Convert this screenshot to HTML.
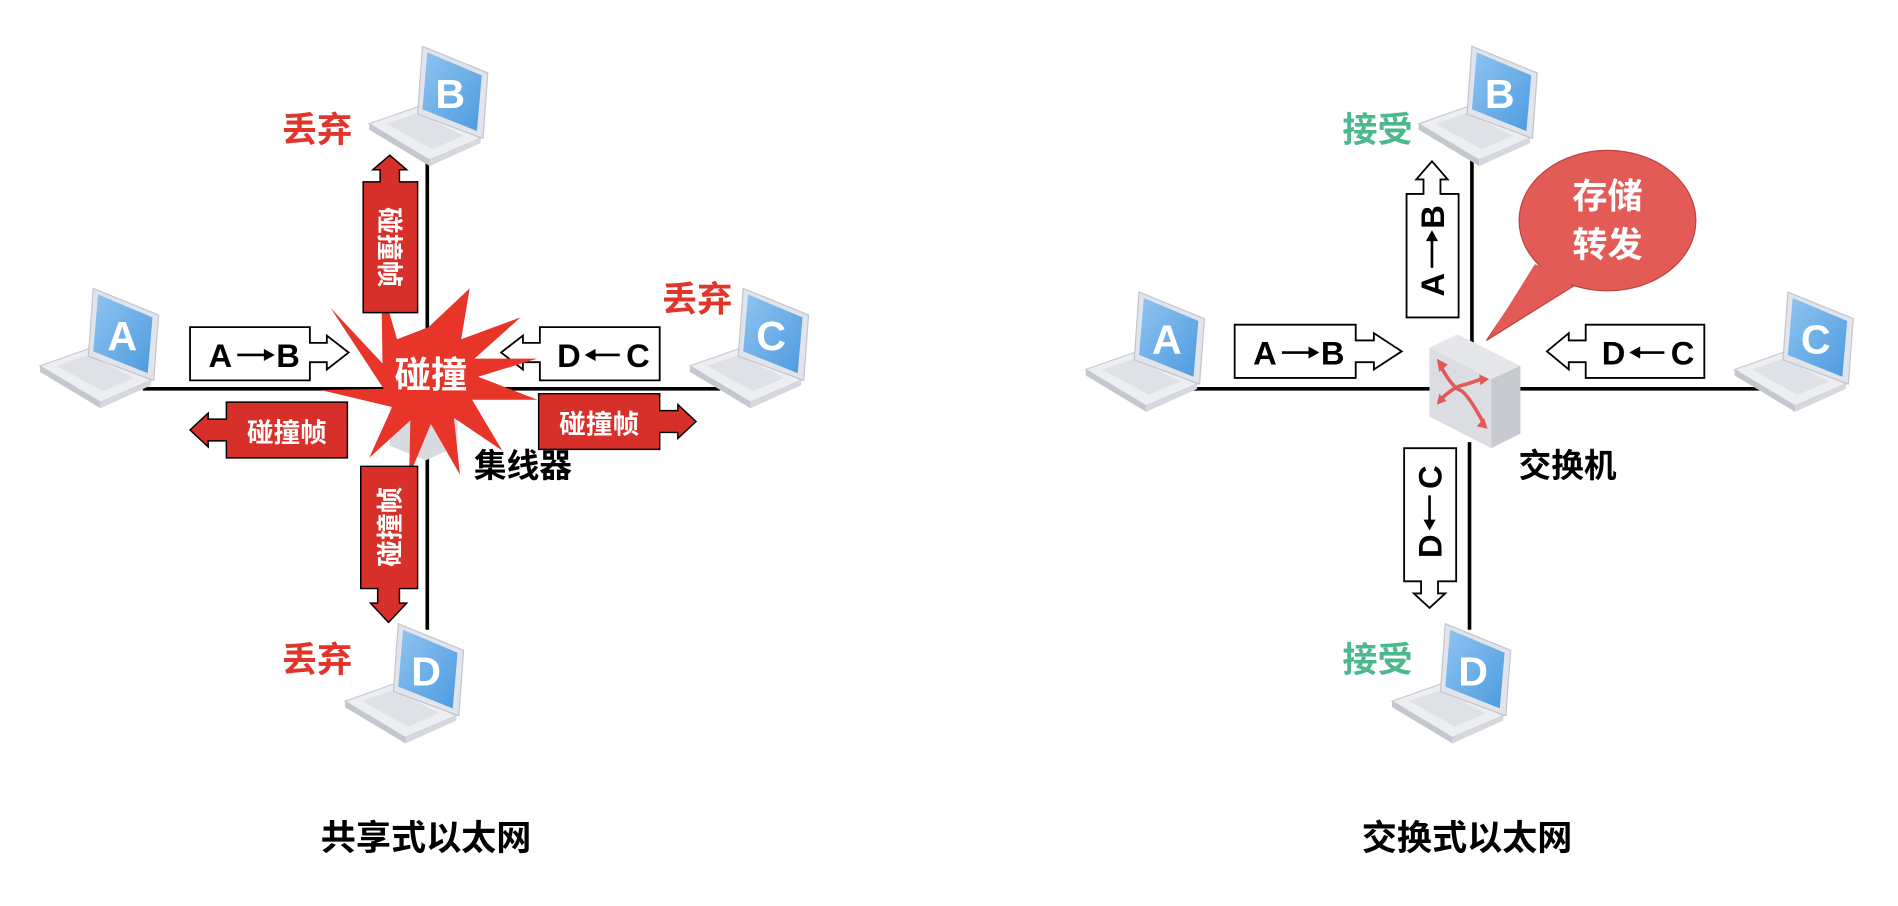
<!DOCTYPE html>
<html><head><meta charset="utf-8"><style>
html,body{margin:0;padding:0;background:#fff;}
svg{display:block;}
text{font-family:"Liberation Sans","Noto Sans CJK SC",sans-serif;font-weight:bold;}
</style></head><body>
<svg width="1898" height="906" viewBox="0 0 1568 748" xmlns="http://www.w3.org/2000/svg">
<defs>
<linearGradient id="scr" x1="0" y1="0" x2="1" y2="1">
<stop offset="0" stop-color="#8fc4f0"/><stop offset="1" stop-color="#4d9be0"/></linearGradient>
<g id="lap">
<polygon points="0,64 40,50 92,76 50,94" fill="#eceef2" stroke="#c9ccd3" stroke-width="1"/>
<polygon points="0,64 50,94 50,99 0,69" fill="#c4c7ce"/>
<polygon points="50,94 92,76 92,80 50,99" fill="#d6d8de"/>
<polygon points="14,64 40,55 78,74 52,85" fill="#dfe1e6"/>
<polygon points="44,0 98,22 94,76 40,56" fill="#e1e4ea" stroke="#c2c6cf" stroke-width="1"/>
<polygon points="48,5 93,24 89,70 44,52" fill="url(#scr)"/>
</g>
<g id="ab">
<text x="-24" y="0" font-size="27" text-anchor="middle">A</text>
<line x1="-10" y1="-10" x2="14" y2="-10" stroke="#000" stroke-width="2.2"/>
<polygon points="12,-15 21,-10 12,-5"/>
<text x="32" y="0" font-size="27" text-anchor="middle">B</text>
</g>
<g id="dc">
<text x="-26" y="0" font-size="27" text-anchor="middle">D</text>
<line x1="-6" y1="-10" x2="16" y2="-10" stroke="#000" stroke-width="2.2"/>
<polygon points="-4,-15 -13,-10 -4,-5"/>
<text x="31" y="0" font-size="27" text-anchor="middle">C</text>
</g>
</defs>

<!-- LEFT -->
<line x1="118" y1="321" x2="595" y2="321" stroke="#000" stroke-width="3"/>
<line x1="353" y1="128" x2="353" y2="520" stroke="#000" stroke-width="3"/>

<use href="#lap" x="33" y="238"/><text x="101" y="289" font-size="34" fill="#fff" text-anchor="middle">A</text>
<use href="#lap" x="305" y="38"/><text x="372" y="89" font-size="34" fill="#fff" text-anchor="middle">B</text>
<use href="#lap" x="570" y="238"/><text x="637" y="289" font-size="34" fill="#fff" text-anchor="middle">C</text>
<use href="#lap" x="285" y="515"/><text x="352" y="566" font-size="34" fill="#fff" text-anchor="middle">D</text>

<text x="262" y="117" font-size="29" fill="#e0352b" text-anchor="middle">丢弃</text>
<text x="576" y="257" font-size="29" fill="#e0352b" text-anchor="middle">丢弃</text>
<text x="262" y="555" font-size="29" fill="#e0352b" text-anchor="middle">丢弃</text>

<polygon points="322,330 352,318 378,330 378,368 352,380 322,368" fill="#d8dae0"/>

<path d="M157,270 H256 V283 H270 V277 L288,291 L270,305 V299 H256 V314 H157 Z" fill="#fff" stroke="#000" stroke-width="1.5"/>
<use href="#ab" x="206" y="303"/>
<path d="M545,270 H446 V283 H432 V277 L414,291 L432,305 V299 H446 V314 H545 Z" fill="#fff" stroke="#000" stroke-width="1.5"/>
<use href="#dc" x="496" y="303"/>

<polygon points="388,238 381,280 430,262 392,296 444,296 395,311 444,330 390,330 415,372 375,345 380,392 356,350 338,393 339,347 305,378 324,336 265,322 317,321 273,254 316,300 315,235 328,280 354,270" fill="#e8352a"/>
<text x="356" y="320" font-size="30" fill="#fff" text-anchor="middle">碰撞</text>
<text x="432" y="394" font-size="27" fill="#000" text-anchor="middle">集线器</text>

<path d="M287,332 H187 V346 H172 V341 L157,355 L172,369 V364 H187 V378 H287 Z" fill="#d7302a" stroke="#000" stroke-width="1.2"/>
<text x="237" y="365" font-size="22" fill="#fff" text-anchor="middle">碰撞帧</text>
<path d="M445,325 H545 V339 H560 V334 L575,348 L560,362 V357 H545 V371 H445 Z" fill="#d7302a" stroke="#000" stroke-width="1.2"/>
<text x="495" y="358" font-size="22" fill="#fff" text-anchor="middle">碰撞帧</text>
<path d="M300,258 V150 H314 V140 H308 L322,128 L336,140 H330 V150 H345 V258 Z" fill="#d7302a" stroke="#000" stroke-width="1.2"/>
<text transform="translate(322,204) rotate(90)" x="0" y="8" font-size="22" fill="#fff" text-anchor="middle">碰撞帧</text>
<path d="M298,385 V486 H312 V498 H306 L321,514 L336,498 H330 V486 H345 V385 Z" fill="#d7302a" stroke="#000" stroke-width="1.2"/>
<text transform="translate(322,435) rotate(-90)" x="0" y="8" font-size="22" fill="#fff" text-anchor="middle">碰撞帧</text>

<text x="352" y="702" font-size="29" fill="#000" text-anchor="middle">共享式以太网</text>

<!-- RIGHT -->
<line x1="980" y1="321" x2="1455" y2="321" stroke="#000" stroke-width="3"/>
<line x1="1216" y1="130" x2="1216" y2="285" stroke="#000" stroke-width="3"/>
<line x1="1214" y1="365" x2="1214" y2="520" stroke="#000" stroke-width="3"/>

<use href="#lap" x="897" y="241"/><text x="964" y="292" font-size="34" fill="#fff" text-anchor="middle">A</text>
<use href="#lap" x="1172" y="38"/><text x="1239" y="89" font-size="34" fill="#fff" text-anchor="middle">B</text>
<use href="#lap" x="1433" y="241"/><text x="1500" y="292" font-size="34" fill="#fff" text-anchor="middle">C</text>
<use href="#lap" x="1150" y="515"/><text x="1217" y="566" font-size="34" fill="#fff" text-anchor="middle">D</text>

<text x="1138" y="117" font-size="29" fill="#4db890" text-anchor="middle">接受</text>
<text x="1138" y="555" font-size="29" fill="#4db890" text-anchor="middle">接受</text>

<polygon points="1181,287 1204,276 1256,302 1256,358 1232,370 1181,344" fill="#e0e1e6"/>
<polygon points="1181,287 1204,276 1256,302 1232,313" fill="#e6e7eb"/>
<polygon points="1232,313 1256,302 1256,358 1232,370" fill="#c9cad0"/>
<polygon points="1181,287 1232,313 1232,370 1181,344" fill="#dcdde2"/>
<g stroke="#e05a57" stroke-width="3" fill="none">
<path d="M1190,302 Q1200,320 1206,322 T1226,350"/>
<path d="M1190,330 Q1200,320 1208,318 T1226,312"/>
</g>
<g fill="#e05a57">
<polygon points="1187,296 1196,301 1189,307"/>
<polygon points="1229,354 1220,352 1226,345"/>
<polygon points="1187,334 1189,325 1195,331"/>
<polygon points="1230,313 1223,318 1222,309"/>
</g>
<text x="1295" y="394" font-size="27" fill="#000" text-anchor="middle">交换机</text>

<!-- bubble -->
<ellipse cx="1328" cy="182" rx="73" ry="58" fill="#e35b57" stroke="#b94440" stroke-width="1"/>
<path d="M1228,281 L1268,222 L1300,236 Z" fill="#e35b57" stroke="#b94440" stroke-width="1"/>
<path d="M1233,274 L1268,218 L1302,232 Z" fill="#e35b57"/>
<text x="1328" y="172" font-size="29" fill="#fff" text-anchor="middle">存储</text>
<text x="1328" y="212" font-size="29" fill="#fff" text-anchor="middle">转发</text>

<path d="M1020,268 H1120 V281 H1135 V275 L1158,290 L1135,305 V299 H1120 V312 H1020 Z" fill="#fff" stroke="#000" stroke-width="1.5"/>
<use href="#ab" x="1069" y="301"/>
<path d="M1408,268 H1310 V281 H1296 V275 L1278,290 L1296,305 V299 H1310 V312 H1408 Z" fill="#fff" stroke="#000" stroke-width="1.5"/>
<use href="#dc" x="1359" y="301"/>
<path d="M1162,262 V160 H1176 V148 H1170 L1183,133 L1196,148 H1190 V160 H1205 V262 Z" fill="#fff" stroke="#000" stroke-width="1.5"/>
<use href="#ab" transform="translate(1193,211) rotate(-90)"/>
<path d="M1160,370 V480 H1174 V490 H1168 L1181,502 L1194,490 H1188 V480 H1203 V370 Z" fill="#fff" stroke="#000" stroke-width="1.5"/>
<use href="#dc" transform="translate(1191,425) rotate(-90)"/>

<text x="1212" y="702" font-size="29" fill="#000" text-anchor="middle">交换式以太网</text>
</svg>
</body></html>
